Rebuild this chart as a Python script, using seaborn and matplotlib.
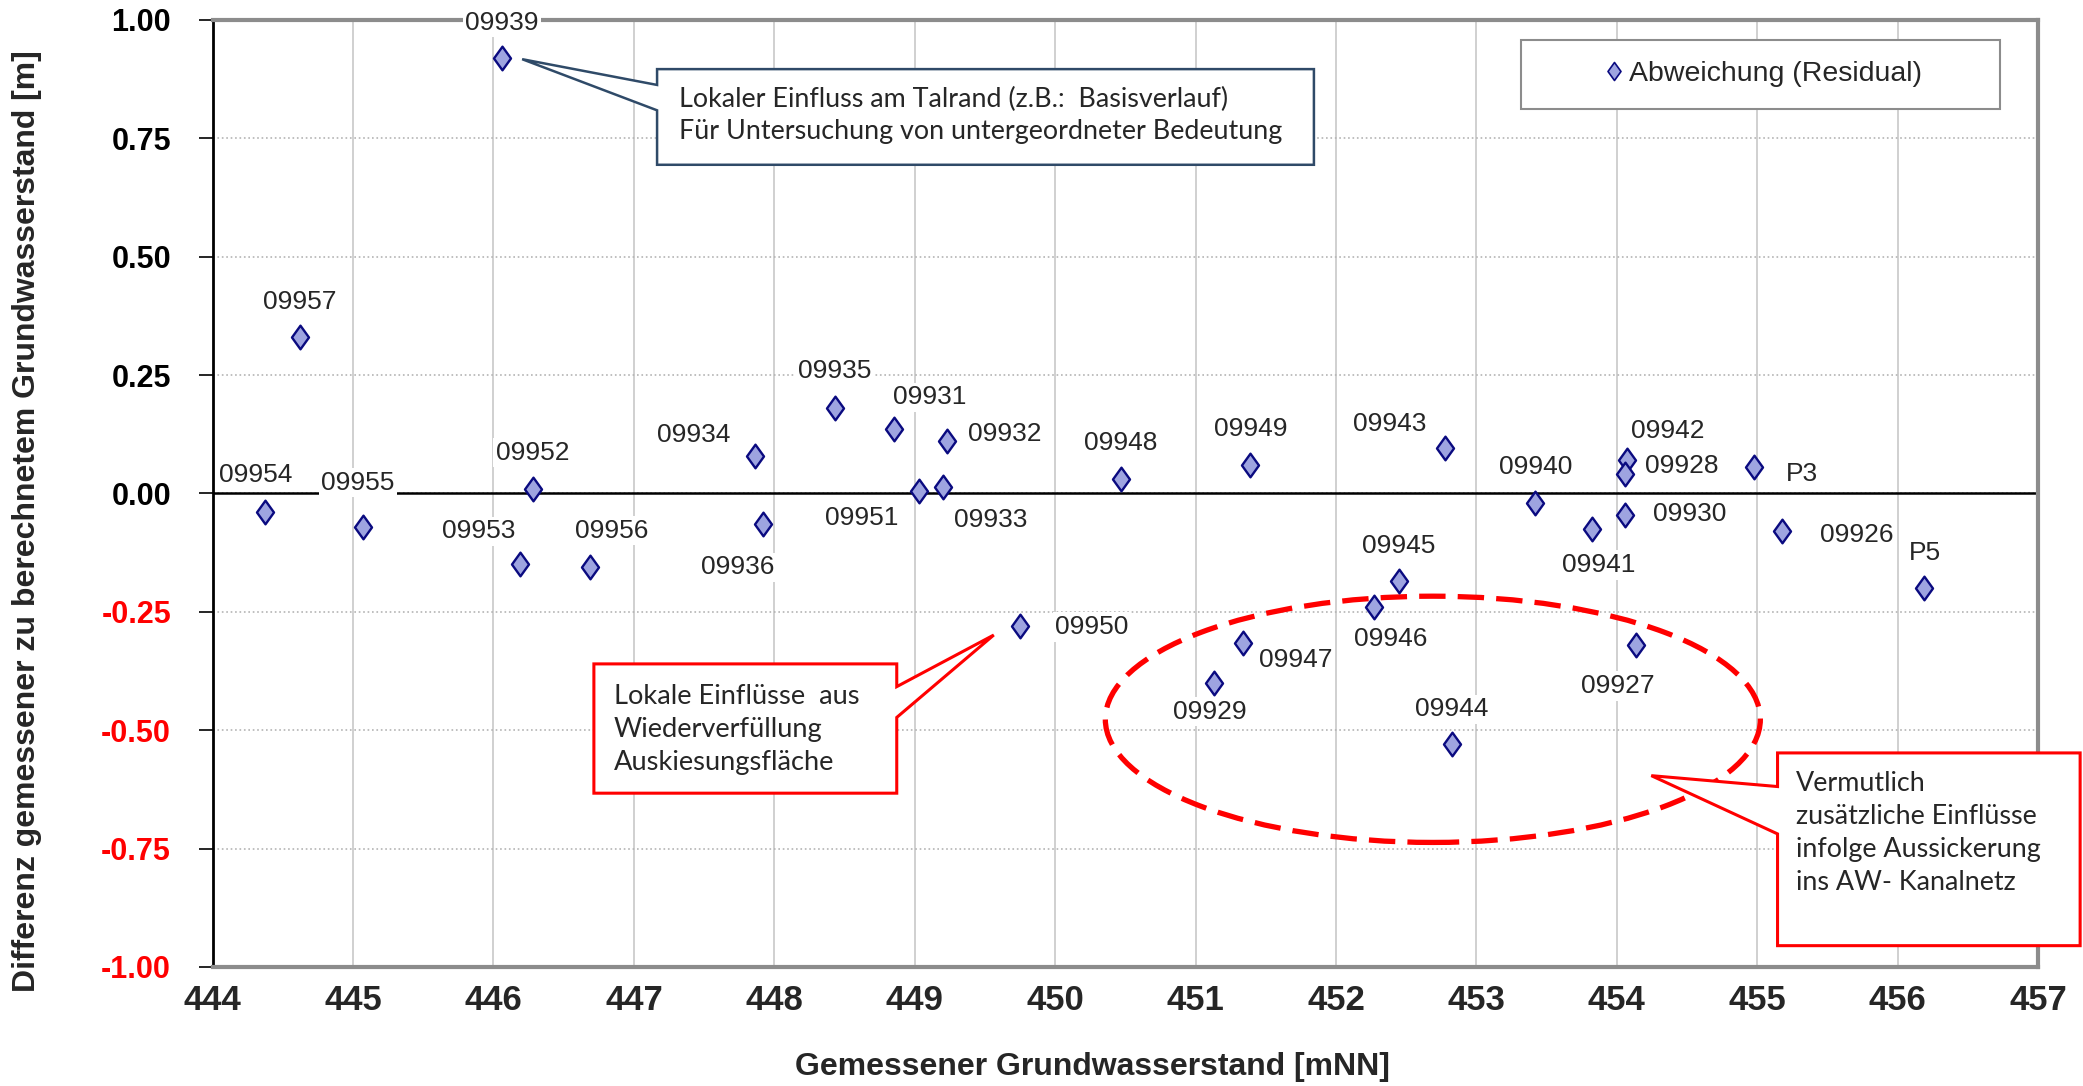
import matplotlib
matplotlib.use("Agg")
import matplotlib.pyplot as plt
from matplotlib.patches import Ellipse, Polygon, Rectangle
from matplotlib.lines import Line2D
from matplotlib.path import Path
import seaborn as sns
import pandas as pd

# Messstellen, gemessener Wasserstand [mNN], Residuum [m]
messstellen = ["09939", "09957", "09954", "09955", "09952", "09953", "09956", "09934",
               "09936", "09935", "09931", "09932", "09951", "09933", "09950", "09948",
               "09949", "09943", "09940", "09942", "09928", "09930", "09941", "P3",
               "09926", "P5", "09945", "09946", "09947", "09929", "09927", "09944"]
gemessen = [446.06, 444.62, 444.37, 445.07, 446.28, 446.19, 446.69, 447.86,
            447.92, 448.43, 448.85, 449.23, 449.03, 449.20, 449.75, 450.47,
            451.39, 452.78, 453.42, 454.07, 454.06, 454.06, 453.82, 454.98,
            455.18, 456.19, 452.45, 452.27, 451.34, 451.13, 454.14, 452.83]
abweichung = [0.92, 0.33, -0.04, -0.07, 0.01, -0.15, -0.155, 0.08,
              -0.065, 0.18, 0.135, 0.11, 0.005, 0.013, -0.28, 0.03,
              0.06, 0.095, -0.02, 0.07, 0.04, -0.045, -0.075, 0.055,
              -0.08, -0.20, -0.185, -0.24, -0.315, -0.40, -0.32, -0.53]

# Versatz der Beschriftungen in Pixeln (dx, dy)
label_dx = [0, 0, -9, -5, 0, -41, 21, -61, -25, 0, 36, 58, -57, 48, 72, 0,
            0, -56, 0, 41, 57, 64, 7, 48, 74, 1, 0, 17, 52, -4, -19, -1]
label_dy = [35, 35, 37, 44, 36, 33, 36, 21, -43, 37, 32, 7, -27, -33, -1, 36,
            36, 24, 36, 29, 8, 1, -36, -7, -4, 35, 35, -32, -17, -29, -41, 35]

x_ticks = list(range(444, 458))
y_ticks = [1.0, 0.75, 0.5, 0.25, 0.0, -0.25, -0.5, -0.75, -1.0]

df = pd.DataFrame({"gemessen": gemessen, "abweichung": abweichung})

sns.set_style("white")
plt.rcParams["font.family"] = ["Liberation Sans", "DejaVu Sans"]
plt.rcParams["axes.unicode_minus"] = False

fig = plt.figure(figsize=(20.83, 10.86), dpi=100)
ax = fig.add_axes([0.1021, 0.1096, 0.8763, 0.8721])

ax.set_xlim(444, 457)
ax.set_ylim(-1, 1)
ax.set_axisbelow(True)
ax.xaxis.grid(True, color="#c8c8c8", lw=1.2)
ax.yaxis.grid(True, color="#b4b4b4", ls=":", lw=1.2)
ax.axhline(0, color="black", lw=1.8, zorder=1.5)

raute = Path([(0, 1), (0.72, 0), (0, -1), (-0.72, 0), (0, 1)], closed=True)
sns.scatterplot(data=df, x="gemessen", y="abweichung", marker=raute, s=290,
                color="#9ea4e0", edgecolor="#0a0a80", linewidth=1.7,
                ax=ax, zorder=4, legend=False)

for name, gx, ab, dx, dy in zip(messstellen, gemessen, abweichung, label_dx, label_dy):
    ax.annotate(name, (gx, ab), xytext=(dx, dy), textcoords="offset pixels",
                ha="center", va="center", fontsize=19, zorder=6, annotation_clip=False,
                bbox=dict(boxstyle="square,pad=0.1", fc="white", ec="none"))

# Legende
ax.add_patch(Rectangle((0.717, 0.906), 0.262, 0.073, transform=ax.transAxes,
                       fc="white", ec="#8c8c8c", lw=1.5, zorder=5))
handle = Line2D([], [], ls="", marker=raute, markersize=13,
                mfc="#9ea4e0", mec="#0a0a80", mew=1.2)
leg = ax.legend([handle], ["Abweichung (Residual)"], loc="center",
                bbox_to_anchor=(0.849, 0.9424), frameon=False, fontsize=20.5,
                handletextpad=0.1, handlelength=0.8)
leg.set_zorder(6)

# Markierung der Auffaelligkeiten
ax.add_patch(Ellipse((452.69, -0.477), 4.665, 0.52, fill=False, ec="red",
                     lw=3.8, ls=(0, (5, 2.3)), zorder=3))

callout_font = ["Lato", "DejaVu Sans"]


def callout(x0, x1, ytop, ybot, side, w_hi, w_lo, tip, color, lw):
    if side == "left":
        pts = [(x0, ytop), (x1, ytop), (x1, ybot), (x0, ybot),
               (x0, w_lo), tip, (x0, w_hi)]
    else:
        pts = [(x0, ytop), (x1, ytop), (x1, w_hi), tip, (x1, w_lo),
               (x1, ybot), (x0, ybot)]
    ax.add_patch(Polygon(pts, closed=True, fc="white", ec=color, lw=lw,
                         zorder=5, clip_on=False))


callout(447.165, 451.843, 0.896, 0.694, "left", 0.8626, 0.809, (446.204, 0.917),
        "#2f4a68", 1.8)
ax.text(447.32, 0.798, "Lokaler Einfluss am Talrand (z.B.:  Basisverlauf)\n"
        "Für Untersuchung von untergeordneter Bedeutung",
        family=callout_font, fontsize=19.4, va="center", ha="left",
        linespacing=1.35, zorder=6)

callout(446.715, 448.872, -0.360, -0.633, "right", -0.408, -0.473, (449.563, -0.299),
        "red", 2.2)
ax.text(446.857, -0.498, "Lokale Einflüsse  aus\nWiederverfüllung\nAuskiesungsfläche",
        family=callout_font, fontsize=19.6, va="center", ha="left",
        linespacing=1.4, zorder=6)

callout(455.145, 457.30, -0.548, -0.955, "left", -0.619, -0.719, (454.246, -0.596),
        "red", 2.2)
ax.text(455.277, -0.717, "Vermutlich\nzusätzliche Einflüsse\ninfolge Aussickerung\n"
        "ins AW- Kanalnetz", family=callout_font, fontsize=19.4, va="center",
        ha="left", linespacing=1.4, zorder=6, clip_on=False)

# Achsen
ax.set_xticks(x_ticks)
ax.set_xticklabels([str(v) for v in x_ticks], fontsize=25, fontweight="bold")
ax.set_yticks(y_ticks)
ax.set_yticklabels([f"{v:.2f}" for v in y_ticks], fontsize=22, fontweight="bold")
for lbl, v in zip(ax.get_yticklabels(), y_ticks):
    lbl.set_color("red" if v < 0 else "black")
ax.tick_params(axis="y", left=True, length=10, width=1.2, color="black", pad=20)
ax.tick_params(axis="x", bottom=False, length=0, pad=12)

ax.set_xlabel("Gemessener Grundwasserstand [mNN]", fontsize=23, fontweight="bold",
              va="center")
ax.xaxis.set_label_coords(0.482, -0.1056)
ax.set_ylabel("Differenz gemessener zu berechnetem Grundwasserstand [m]",
              fontsize=23, fontweight="bold", va="center")
ax.yaxis.set_label_coords(-0.1017, 0.471)

for side in ["top", "right", "bottom"]:
    ax.spines[side].set_color("#8c8c8c")
    ax.spines[side].set_linewidth(3)
ax.spines["left"].set_color("black")
ax.spines["left"].set_linewidth(2)

fig.savefig("out.png", dpi=100)
